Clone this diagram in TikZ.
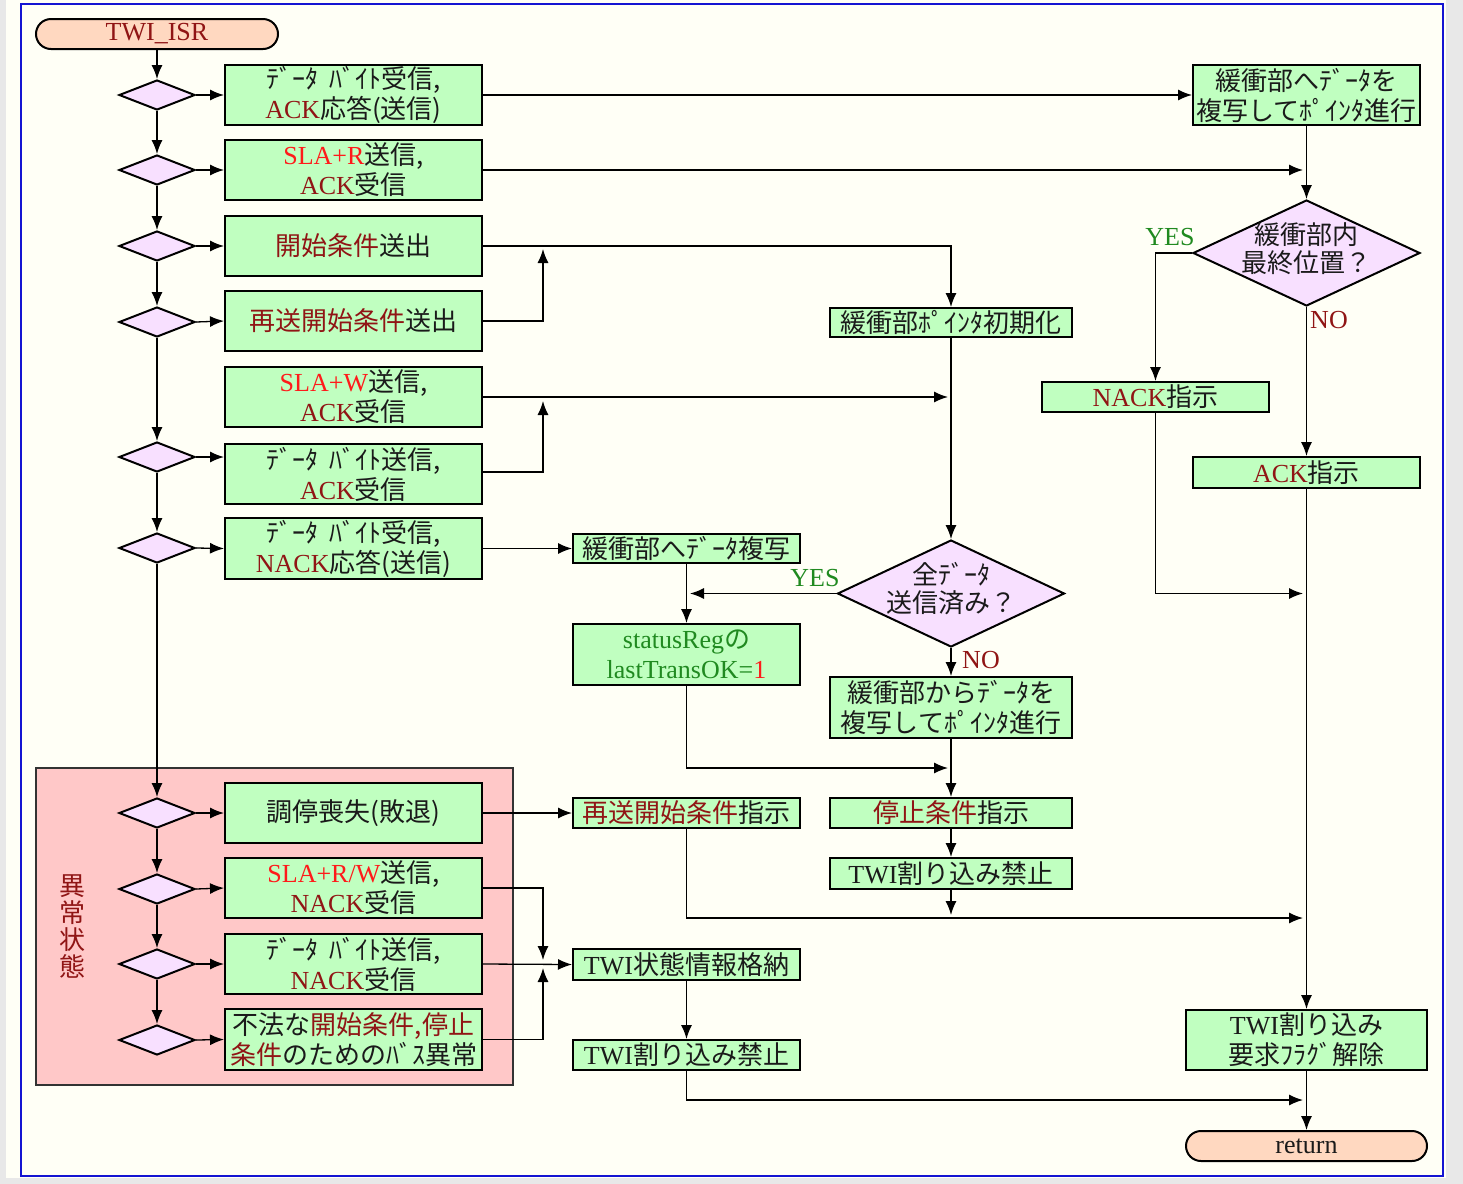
\documentclass[tikz,border=0pt]{standalone}
\usepackage{fontspec}
\setmainfont{Noto Sans CJK JP}
\newfontfamily\latn{Liberation Serif}
\usetikzlibrary{shapes.geometric,arrows.meta,calc}
\definecolor{bggray}{HTML}{E8E8E8}
\definecolor{cream}{HTML}{FFFFF6}
\definecolor{frameblue}{HTML}{1414D2}
\definecolor{boxg}{HTML}{C0FFC0}
\definecolor{diaf}{HTML}{F8E0FF}
\definecolor{termf}{HTML}{FFD8C0}
\definecolor{errf}{HTML}{FFC8C8}
\definecolor{dred}{HTML}{901515}
\definecolor{bred}{HTML}{FF1A1A}
\definecolor{dgreen}{HTML}{208A20}
\definecolor{txt}{HTML}{1A1A1A}
\newcommand\la[1]{{\latn #1}}
\newcommand\dr[1]{\textcolor{dred}{#1}}
\newcommand\br[1]{\textcolor{bred}{#1}}
\newcommand\gr[1]{\textcolor{dgreen}{#1}}
\newcommand\hsp{\hspace{0.45em}}
\tikzset{
  box/.style={draw=black, line width=1pt, fill=boxg, inner sep=0pt, align=center, text=txt, font=\fontsize{13}{15}\selectfont},
  dia/.style={diamond, draw=black, line width=1pt, fill=diaf, inner sep=0pt},
  term/.style={draw=black, line width=1pt, rounded corners=7.5pt, fill=termf, inner sep=0pt, text=txt, font=\fontsize{13}{15}\selectfont, minimum height=15pt},
  txtn/.style={inner sep=0pt, align=center, text=txt, font=\fontsize{13}{14}\selectfont},
  lbl/.style={inner sep=0pt, font=\fontsize{13}{15}\selectfont\latn},
  arr/.style={-{Latex[length=7pt,width=5.5pt]}, line width=0.65pt, draw=black},
  ln/.style={line width=0.65pt, draw=black}
}
\newcommand\bx[6]{\node[box,minimum width={(#4-#2)*0.5pt},minimum height={(#5-#3)*0.5pt}] (#1) at ({(#2+#4)/2},{(#3+#5)/2}) {#6};}
\begin{document}
\begin{tikzpicture}[x=0.5pt,y=-0.5pt]
\useasboundingbox (0,0) rectangle (1463,1184);
% frame
\fill[bggray] (0,0) rectangle (1463,1184);
\fill[cream] (6,0) rectangle (1446,1178);
\draw[frameblue, line width=1pt] (21,4) rectangle (1443,1176);
% error region
\draw[fill=errf, draw=black!80, line width=0.6pt] (36,768) rectangle (513,1085);
\node[inner sep=0pt, align=center, text=dred, font=\fontsize{13}{13.5}\selectfont] (errlbl) at (73,926) {異\\常\\状\\態};
% terminals
\node[term, minimum width=121pt] (isr) at (157,34) {\dr{\la{TWI\_ISR}}};
\node[term, minimum width=120.5pt] (ret) at (1306.5,1146) {\la{return}};
% diamonds left
\foreach \n/\yy in {d1/95,d2/170,d3/246,d4/322,d5/457,d6/548,e1d/813,e2d/889,e3d/964,e4d/1040}
  \node[dia, minimum width=38pt, minimum height=15pt] (\n) at (157,\yy) {};
% left boxes
\bx{b1}{225}{65}{482}{125}{ﾃﾞｰﾀ\hsp ﾊﾞｲﾄ受信,\\\dr{\la{ACK}}応答(送信)}
\bx{b2}{225}{140}{482}{200}{\br{\la{SLA+R}}送信,\\\dr{\la{ACK}}受信}
\bx{b3}{225}{216}{482}{276}{\dr{開始条件}送出}
\bx{b4}{225}{291}{482}{351}{\dr{再送開始条件}送出}
\bx{b5}{225}{367}{482}{427}{\br{\la{SLA+W}}送信,\\\dr{\la{ACK}}受信}
\bx{b6}{225}{444}{482}{504}{ﾃﾞｰﾀ\hsp ﾊﾞｲﾄ送信,\\\dr{\la{ACK}}受信}
\bx{b7}{225}{518}{482}{579}{ﾃﾞｰﾀ\hsp ﾊﾞｲﾄ受信,\\\dr{\la{NACK}}応答(送信)}
\bx{e1}{225}{783}{482}{843}{調停喪失(敗退)}
\bx{e2}{225}{858}{482}{918}{\br{\la{SLA+R/W}}送信,\\\dr{\la{NACK}}受信}
\bx{e3}{225}{934}{482}{994}{ﾃﾞｰﾀ\hsp ﾊﾞｲﾄ送信,\\\dr{\la{NACK}}受信}
\bx{e4}{225}{1009}{482}{1070}{不法な\dr{開始条件,停止}\\\dr{条件}のためのﾊﾞｽ異常}
% middle-left column
\bx{cp}{573}{534}{800}{563}{緩衝部へﾃﾞｰﾀ複写}
\bx{sr}{573}{624}{800}{685}{\gr{\la{statusReg}の}\\\gr{\la{lastTransOK=}}\br{\la{1}}}
\bx{rs}{573}{798}{800}{828}{\dr{再送開始条件}指示}
\bx{st}{573}{949}{800}{980}{\la{TWI}状態情報格納}
\bx{tdl}{573}{1040}{800}{1070}{\la{TWI}割り込み禁止}
% middle-right column
\bx{pi}{830}{308}{1072}{337}{緩衝部ﾎﾟｲﾝﾀ初期化}
\node[dia, minimum width=113.5pt, minimum height=53.5pt] (all) at (951,593.5) {};
\node[txtn] (alltxt) at (951,589) {全ﾃﾞｰﾀ\\送信済み？};
\bx{cf}{830}{677}{1072}{738}{緩衝部からﾃﾞｰﾀを\\複写してﾎﾟｲﾝﾀ進行}
\bx{stp}{830}{798}{1072}{828}{\dr{停止条件}指示}
\bx{tdis}{830}{858}{1072}{889}{\la{TWI}割り込み禁止}
% right column
\bx{r1}{1193}{65}{1420}{125}{緩衝部へﾃﾞｰﾀを\\複写してﾎﾟｲﾝﾀ進行}
\node[dia, minimum width=113.5pt, minimum height=53pt] (rd) at (1306.5,253) {};
\node[txtn] (rdtxt) at (1306.5,249) {緩衝部内\\最終位置？};
\bx{nack}{1042}{382}{1269}{412}{\dr{\la{NACK}}指示}
\bx{ack}{1193}{457}{1420}{488}{\dr{\la{ACK}}指示}
\bx{flag}{1186}{1010}{1427}{1070}{\la{TWI}割り込み\\要求ﾌﾗｸﾞ解除}
% labels
\node[lbl, text=dgreen] (yes1) at (1170,237) {YES};
\node[lbl, text=dred] (no1) at (1329,320) {NO};
\node[lbl, text=dgreen] (yes2) at (815,578) {YES};
\node[lbl, text=dred] (no2) at (981,660) {NO};
% free-end coordinates
\coordinate (j1) at (543,249);
\coordinate (j2) at (948,397);
\coordinate (j3) at (543,401);
\coordinate (j4) at (1303,170);
\coordinate (j5) at (1303,593.5);
\coordinate (j6) at (690,593.5);
\coordinate (j7) at (948,768);
\coordinate (j8) at (951,915);
\coordinate (j9) at (1303,918);
\coordinate (j10) at (543,960);
\coordinate (j11) at (543,968);
\coordinate (j12) at (1303,1100);
% left chain
\draw[arr] (isr.south) -- (d1.north);
\draw[arr] (d1.south) -- (d2.north);
\draw[arr] (d2.south) -- (d3.north);
\draw[arr] (d3.south) -- (d4.north);
\draw[arr] (d4.south) -- (d5.north);
\draw[arr] (d5.south) -- (d6.north);
\draw[arr] (d6.south) -- (e1d.north);
\draw[arr] (e1d.south) -- (e2d.north);
\draw[arr] (e2d.south) -- (e3d.north);
\draw[arr] (e3d.south) -- (e4d.north);
\draw[arr] (d1.east) -- (b1.west);
\draw[arr] (d2.east) -- (b2.west);
\draw[arr] (d3.east) -- (b3.west);
\draw[arr] (d4.east) -- (b4.west);
\draw[arr] (d5.east) -- (d5.east -| b6.west);
\draw[arr] (d6.east) -- (b7.west);
\draw[arr] (e1d.east) -- (e1.west);
\draw[arr] (e2d.east) -- (e2.west);
\draw[arr] (e3d.east) -- (e3.west);
\draw[arr] (e4d.east) -- (e4.west);
% branches
\draw[arr] (b1.east) -- (r1.west);
\draw[arr] (b2.east) -- (j4);
\draw[arr] (b3.east) -| (pi.north);
\draw[arr] (b4.east) -| (j1);
\draw[arr] (b5.east) -- (j2);
\draw[arr] ($(b6.east)+(0,-2)$) -| (j3);
\draw[arr] (b7.east) -- (cp.west);
\draw[arr] (r1.south) -- (rd.north);
\draw[arr] (rd.west) -| (nack.north);
\draw[arr] (rd.south) -- (ack.north);
\draw[arr] (ack.south) -- (flag.north);
\draw[arr] (nack.south) |- (j5);
\draw[arr] (flag.south) -- (ret.north);
\draw[arr] (pi.south) -- (all.north);
\draw[arr] (all.west) -- (j6);
\draw[arr] (all.south) -- (cf.north);
\draw[arr] (cp.south) -- (sr.north);
\draw[arr] (sr.south) |- (j7);
\draw[arr] (cf.south) -- (stp.north);
\draw[arr] (stp.south) -- (tdis.north);
\draw[arr] (tdis.south) -- (j8);
\draw[arr] (e1.east) -- (rs.west);
\draw[arr] (rs.south) |- (j9);
\draw[arr] (e2.east) -| (j10);
\draw[arr] (e3.east) -- (st.west);
\draw[arr] (e4.east) -| (j11);
\draw[arr] (st.south) -- (tdl.north);
\draw[arr] (tdl.south) |- (j12);
\end{tikzpicture}
\end{document}
